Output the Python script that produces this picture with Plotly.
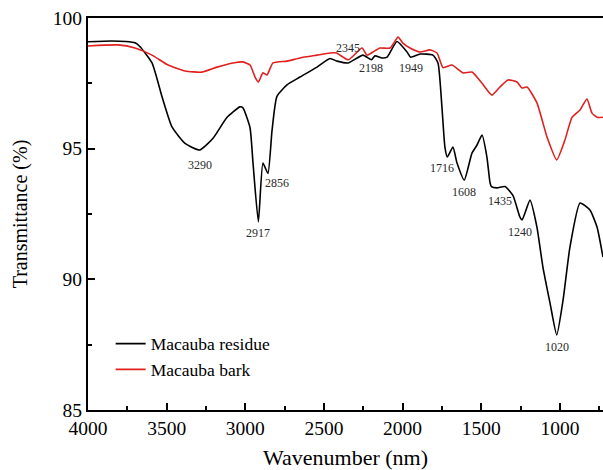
import plotly.graph_objects as go

# FTIR spectra: wavenumber (cm-1 scale, descending) vs transmittance (%)
residue_wn = [4000, 3850, 3760, 3701, 3669, 3593, 3529, 3466, 3383, 3290, 3205, 3116,
              3034, 3015, 2970, 2951, 2917, 2888, 2856, 2830, 2799, 2735, 2652, 2544,
              2462, 2417, 2345, 2252, 2198, 2176, 2131, 2099, 2036, 1972, 1949, 1889,
              1807, 1775, 1750, 1731, 1716, 1680, 1654, 1608, 1559, 1527, 1495, 1464,
              1444, 1435, 1400, 1349, 1298, 1254, 1240, 1190, 1146, 1108, 1063, 1020,
              980, 936, 872, 809, 764, 726]
residue_t = [99.09, 99.12, 99.1, 99.05, 98.9, 98.28, 96.98, 95.83, 95.2, 94.95, 95.4, 96.2,
             96.6, 96.56, 95.8, 94.45, 92.2, 94.45, 94.05, 95.7, 97.0, 97.44, 97.74, 98.12,
             98.45, 98.35, 98.28, 98.58, 98.4, 98.55, 98.47, 98.5, 99.1, 98.7, 98.5, 98.62,
             98.58, 98.28, 96.6, 95.06, 94.68, 95.06, 94.45, 93.8, 94.83, 95.14, 95.52, 94.68,
             93.69, 93.55, 93.5, 93.55, 93.2, 92.38, 92.27, 93.03, 92.0, 90.47, 89.1, 87.87,
             89.2, 91.24, 92.92, 92.65, 92.0, 90.85]

bark_wn = [4000, 3809, 3701, 3593, 3491, 3383, 3275, 3180, 3078, 3015, 2970, 2938,
           2917, 2888, 2862, 2824, 2735, 2652, 2544, 2462, 2420, 2345, 2258, 2226,
           2188, 2144, 2080, 2029, 1998, 1953, 1889, 1826, 1781, 1743, 1686, 1616,
           1559, 1495, 1432, 1381, 1330, 1273, 1241, 1209, 1146, 1082, 1020, 968,
           923, 872, 828, 796, 764, 726]
bark_t = [98.93, 98.97, 98.85, 98.58, 98.2, 97.97, 97.93, 98.12, 98.28, 98.32, 98.2, 97.74,
          97.55, 97.9, 97.82, 98.28, 98.35, 98.47, 98.58, 98.66, 98.66, 98.4, 98.85, 98.58,
          98.7, 98.85, 98.85, 99.27, 99.04, 98.85, 98.7, 98.78, 98.66, 98.1, 98.2, 97.9,
          97.93, 97.5, 97.05, 97.36, 97.63, 97.55, 97.32, 97.36, 96.75, 95.45, 94.57, 95.33,
          96.2, 96.48, 96.9, 96.36, 96.2, 96.2]

# Band labels: (label wavenumber, label y position, horizontal pixel shift)
peak_labels = ["3290", "2917", "2856", "2345", "2198", "1949", "1716", "1608", "1435", "1240", "1020"]
peak_label_y = [94.37, 91.77, 93.69, 98.85, 98.09, 98.09, 94.26, 93.34, 93.0, 91.81, 87.41]
peak_label_dx = [0, 0, 9, 0, 0, 0, -5, 0, 9, -2, 0]

SERIF = "Liberation Serif, Times New Roman, serif"

fig = go.Figure()
fig.add_trace(go.Scatter(x=residue_wn, y=residue_t, mode="lines", name="Macauba residue",
                         line=dict(color="black", width=1.6, shape="spline", smoothing=0.5)))
fig.add_trace(go.Scatter(x=bark_wn, y=bark_t, mode="lines", name="Macauba bark",
                         line=dict(color="#e0201f", width=1.6, shape="spline", smoothing=0.5)))

for lab, ly, dx in zip(peak_labels, peak_label_y, peak_label_dx):
    fig.add_annotation(x=float(lab), y=ly, text=lab, showarrow=False, xshift=dx,
                       font=dict(family=SERIF, size=12, color="#2a2a2a"))

fig.update_layout(
    width=603, height=470,
    margin=dict(l=88, r=0, t=18, b=60),
    paper_bgcolor="white", plot_bgcolor="white",
    font=dict(family=SERIF, color="black"),
    showlegend=True,
    legend=dict(x=0.044, y=0.215, xanchor="left", yanchor="top",
                bgcolor="rgba(0,0,0,0)", font=dict(family=SERIF, size=17.5),
                tracegroupgap=0, itemwidth=30),
)
fig.update_xaxes(
    range=[4000, 726], tickvals=[4000, 3500, 3000, 2500, 2000, 1500, 1000],
    ticks="inside", ticklen=7, tickwidth=2, tickcolor="black",
    minor=dict(tickvals=[3750, 3250, 2750, 2250, 1750, 1250, 750], ticks="inside",
               ticklen=4, tickwidth=1.5, tickcolor="black"),
    showline=True, linewidth=2, linecolor="black", mirror=True,
    showgrid=False, zeroline=False,
    tickfont=dict(family=SERIF, size=19.5),
    title=dict(text="Wavenumber (nm)", font=dict(family=SERIF, size=22), standoff=11),
)
fig.update_yaxes(
    range=[85, 100], tickvals=[85, 90, 95, 100],
    ticks="inside", ticklen=7, tickwidth=2, tickcolor="black",
    minor=dict(tickvals=[87.5, 92.5, 97.5], ticks="inside",
               ticklen=4, tickwidth=1.5, tickcolor="black"),
    showline=True, linewidth=2, linecolor="black",
    showgrid=False, zeroline=False,
    tickfont=dict(family=SERIF, size=19.5),
    title=dict(text="Transmittance (%)", font=dict(family=SERIF, size=20), standoff=20),
)

fig.write_html("out.html")
